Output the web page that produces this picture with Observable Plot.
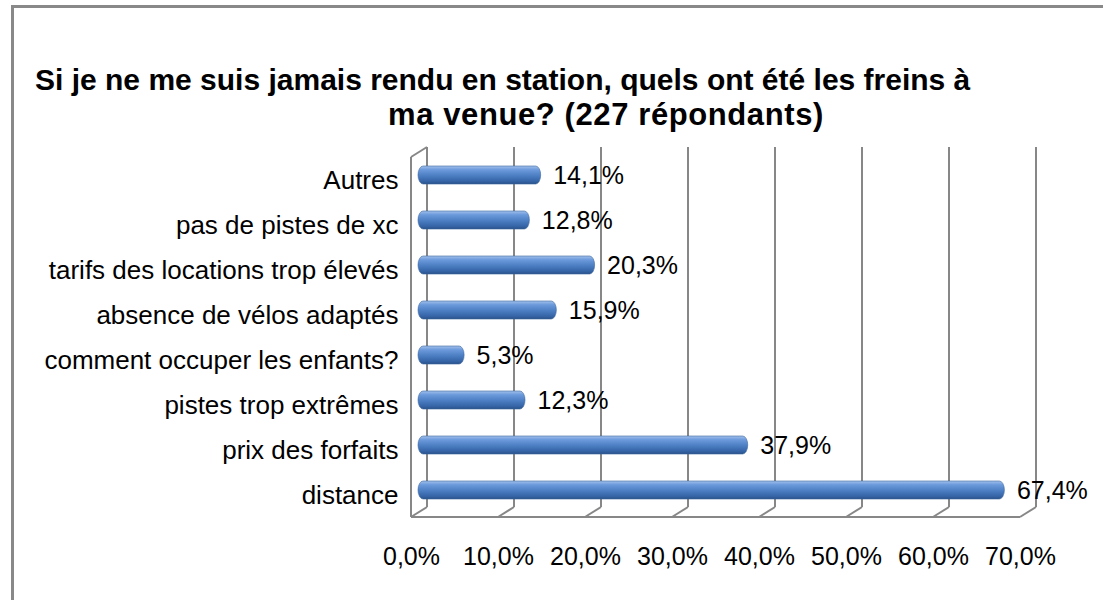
<!DOCTYPE html>
<html><head><meta charset="utf-8">
<script src="https://cdn.jsdelivr.net/npm/d3@7"></script>
<script src="https://cdn.jsdelivr.net/npm/@observablehq/plot@0.6"></script>
<style>
body{margin:0;background:#fff;}
#wrap{position:relative;width:1103px;height:600px;overflow:hidden;font-family:Arial,"Liberation Sans",sans-serif;}
#border{position:absolute;left:11px;top:5px;width:1200px;height:700px;border:3px solid #898989;box-sizing:border-box;}
.t{position:absolute;font-weight:bold;font-size:30px;line-height:30px;white-space:nowrap;color:#000;}
#chart{position:absolute;left:0;top:140px;}
</style></head><body>
<div id="wrap"><div id="border"></div>
<div class="t" style="left:35px;top:65px">Si je ne me suis jamais rendu en station, quels ont été les freins à</div>
<div class="t" style="left:388px;top:100px;font-size:31px;letter-spacing:0.6px">ma venue? (227 répondants)</div>
<div id="chart"></div></div>
<script>
const categories = ["Autres","pas de pistes de xc","tarifs des locations trop élevés","absence de vélos adaptés","comment occuper les enfants?","pistes trop extrêmes","prix des forfaits","distance"];
const values = [14.1,12.8,20.3,15.9,5.3,12.3,37.9,67.4];
const xTicks = [0,10,20,30,40,50,60,70];
const data = categories.map((c,i)=>({category:c, value:values[i]}));
const fmt = v => v.toFixed(1).replace(".", ",") + "%";
const DX = 16, DY = -10;

function defs(){
  const d = d3.create("svg:defs");
  const g = d.append("linearGradient").attr("id","cyl").attr("x1",0).attr("y1",0).attr("x2",0).attr("y2",1);
  [[0,"#a3c1ea"],[0.2,"#6d9bdc"],[0.55,"#4b7dc2"],[0.85,"#3564a6"],[1,"#2a5187"]]
    .forEach(([o,c])=>g.append("stop").attr("offset",o).attr("stop-color",c));
  return d.node();
}

function frame3d(index, scales, vals, dims){
  const x = scales.x;
  const top = dims.marginTop, bottom = dims.height - dims.marginBottom;
  const g = d3.create("svg:g").attr("stroke","#878787").attr("stroke-width",2).attr("fill","none");
  const line = (a,b,c,d)=>g.append("line").attr("x1",a).attr("y1",b).attr("x2",c).attr("y2",d);
  const x0 = x(xTicks[0]), x1 = x(xTicks[xTicks.length-1]);
  for (const t of xTicks) {
    const xf = x(t);
    line(xf+DX, top+DY, xf+DX, bottom+DY);
    line(xf, bottom, xf+DX, bottom+DY);
  }
  line(x0, top, x0, bottom);
  line(x0, top, x0+DX, top+DY);
  line(x0, bottom, x1, bottom);
  return g.node();
}

const chart = Plot.plot({
  width: 1103, height: 460,
  marginLeft: 411, marginRight: 83, marginTop: 17, marginBottom: 83,
  style: {fontFamily: 'Arial, "Liberation Sans", sans-serif', fontSize: "25px", color: "#000", background: "transparent", overflow: "visible"},
  x: {domain: [0,70], ticks: xTicks, tickFormat: fmt, tickSize: 0, tickPadding: 30, label: null},
  y: {domain: categories, paddingInner: 0.6, paddingOuter: 0.3, tickSize: 0, tickPadding: 13, label: null},
  marks: [
    defs,
    frame3d,
    Plot.barX(data, {x: "value", y: "category", fill: "url(#cyl)", stroke: "#3a679f", strokeWidth: 0.6, rx: 5, ry: 9, dx: 7, dy: -5}),
    Plot.text(data, {x: "value", y: "category", text: d => fmt(d.value), textAnchor: "start", dx: 19, dy: -5, fontSize: 25})
  ]
});
chart.querySelectorAll('[aria-label="y-axis tick label"] text, [aria-label="y-axis"] text').forEach(t => t.setAttribute("font-size", "26"));
document.getElementById("chart").appendChild(chart);
</script>
</body></html>
